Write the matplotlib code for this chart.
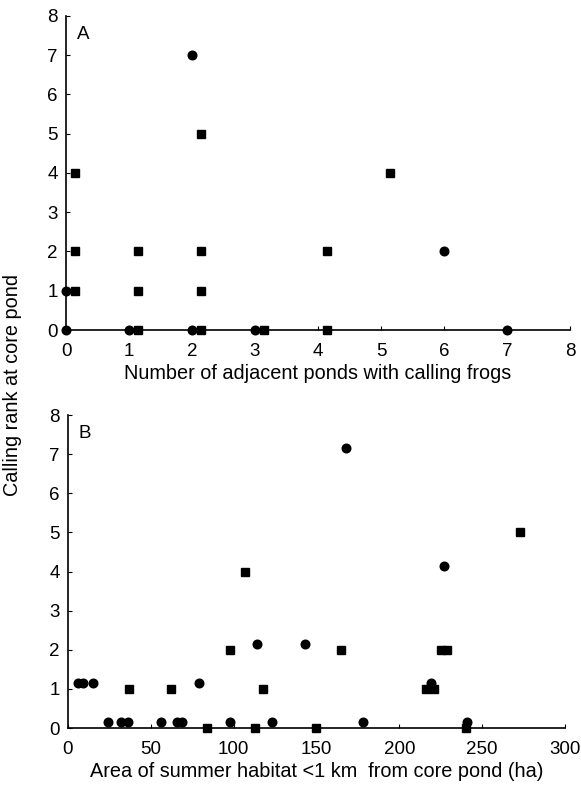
import matplotlib
matplotlib.use('Agg')
import matplotlib.pyplot as plt

# ── Data ──────────────────────────────────────────────────────────────────────
# Panel A: number of adjacent ponds with calling frogs vs calling rank
a_circ_x = [0, 0, 1, 2, 2, 3, 6, 7]
a_circ_y = [0, 1, 0, 0, 7, 0, 2, 0]
a_sq_x = [0.15, 0.15, 0.15, 1.15, 1.15, 1.15, 2.15, 2.15, 2.15, 2.15,
          3.15, 4.15, 4.15, 5.15]
a_sq_y = [4, 2, 1, 2, 1, 0, 5, 2, 1, 0, 0, 2, 0, 4]

# Panel B: area of summer habitat (<1 km) vs calling rank
b_circ_x = [6, 9, 15, 24, 32, 36, 56, 66, 69, 79, 98, 114, 123, 143,
            168, 178, 219, 227, 241]
b_circ_y = [1.15, 1.15, 1.15, 0.15, 0.15, 0.15, 0.15, 0.15, 0.15, 1.15,
            0.15, 2.15, 0.15, 2.15, 7.15, 0.15, 1.15, 4.15, 0.15]
b_sq_x = [37, 62, 84, 98, 107, 113, 118, 150, 165, 216, 221, 225, 229,
          240, 273]
b_sq_y = [1, 1, 0, 2, 4, 0, 1, 0, 2, 1, 1, 2, 2, 0, 5]

plt.rcParams.update({
    'font.family': 'Liberation Sans',
    'font.size': 13.5,
    'axes.linewidth': 1.2,
    'xtick.direction': 'in',
    'ytick.direction': 'in',
    'xtick.major.size': 3,
    'ytick.major.size': 3,
    'xtick.major.pad': 9,
    'ytick.major.pad': 6,
})

fig = plt.figure(figsize=(5.81, 7.91), dpi=100)
axA = fig.add_axes([0.1136, 0.5828, 0.8674, 0.397])
axB = fig.add_axes([0.117, 0.0796, 0.8555, 0.3957])

MS = 6.2
LABEL_FS = 14.3
TICK_FS = 13.5


def style(ax, xmax, xticks):
    ax.set_xlim(0, xmax)
    ax.set_ylim(0, 8)
    ax.set_xticks(xticks)
    ax.set_yticks(range(0, 9))
    ax.spines['top'].set_visible(False)
    ax.spines['right'].set_visible(False)
    ax.tick_params(labelsize=TICK_FS)


# ── Panel A ───────────────────────────────────────────────────────────────────
axA.plot(a_circ_x, a_circ_y, 'o', color='black', ms=MS, clip_on=False, zorder=3)
axA.plot(a_sq_x, a_sq_y, 's', color='black', ms=MS - 0.6, clip_on=False, zorder=3)
style(axA, 8, range(0, 9))
axA.set_xlabel('Number of adjacent ponds with calling frogs', fontsize=LABEL_FS, labelpad=3)
axA.text(0.022, 0.968, 'A', transform=axA.transAxes, fontsize=TICK_FS, va='top', ha='left')

# ── Panel B ───────────────────────────────────────────────────────────────────
axB.plot(b_circ_x, b_circ_y, 'o', color='black', ms=MS, clip_on=False, zorder=3)
axB.plot(b_sq_x, b_sq_y, 's', color='black', ms=MS - 0.6, clip_on=False, zorder=3)
style(axB, 300, range(0, 301, 50))
axB.set_xlabel('Area of summer habitat <1 km  from core pond (ha)', fontsize=LABEL_FS, labelpad=3)
axB.text(0.022, 0.968, 'B', transform=axB.transAxes, fontsize=TICK_FS, va='top', ha='left')

fig.text(0.022, 0.513, 'Calling rank at core pond', rotation=90,
         ha='center', va='center', fontsize=LABEL_FS)

fig.savefig('out.png', dpi=100)
